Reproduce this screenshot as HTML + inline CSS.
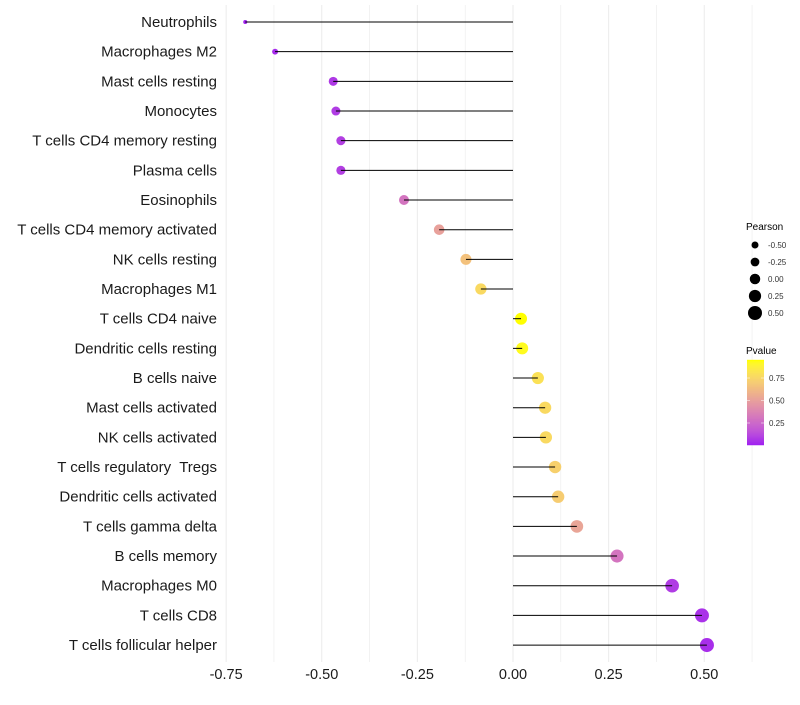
<!DOCTYPE html>
<html><head><meta charset="utf-8"><style>
body{margin:0;background:#fff;font-family:"Liberation Sans",sans-serif}
svg text{font-family:"Liberation Sans",sans-serif;white-space:pre}
</style></head><body>
<svg id="chart" width="800" height="700"></svg>
<script>
const categories=["Neutrophils","Macrophages M2","Mast cells resting","Monocytes","T cells CD4 memory resting","Plasma cells","Eosinophils","T cells CD4 memory activated","NK cells resting","Macrophages M1","T cells CD4 naive","Dendritic cells resting","B cells naive","Mast cells activated","NK cells activated","T cells regulatory  Tregs","Dendritic cells activated","T cells gamma delta","B cells memory","Macrophages M0","T cells CD8","T cells follicular helper"];
const pearson=[-0.70,-0.622,-0.47,-0.463,-0.45,-0.45,-0.285,-0.193,-0.123,-0.084,0.021,0.024,0.065,0.084,0.086,0.11,0.118,0.167,0.272,0.416,0.494,0.507];
const pvalue=[0.01,0.03,0.07,0.08,0.09,0.09,0.3,0.5,0.65,0.76,0.94,0.92,0.8,0.76,0.76,0.72,0.7,0.52,0.3,0.08,0.05,0.04];
const xTicks=[-0.75,-0.5,-0.25,0,0.25,0.5];
const xTickLabels=["-0.75","-0.50","-0.25","0.00","0.25","0.50"];
const sizeLegend=[-0.5,-0.25,0,0.25,0.5];
const sizeLegendLabels=["-0.50","-0.25","0.00","0.25","0.50"];
const pTicks=[0.25,0.5,0.75];
const pTickLabels=["0.25","0.50","0.75"];

const NS="http://www.w3.org/2000/svg";
const svg=document.getElementById('chart');
function el(t,a,p){const e=document.createElementNS(NS,t);for(const k in a)e.setAttribute(k,a[k]);(p||svg).appendChild(e);return e;}
const x=v=>513+(v)*382.5;
const y=i=>22+i*29.67;
function r(v){const kv=[-0.72,-0.62,-0.47,-0.28,0.02,0.5,0.6],kr=[1.8,3,4.5,5,6,7,7.3];
 if(v<=kv[0])return kr[0];for(let i=1;i<kv.length;i++){if(v<=kv[i]){const t=(v-kv[i-1])/(kv[i]-kv[i-1]);return kr[i-1]+t*(kr[i]-kr[i-1]);}}return kr[kr.length-1];}
function rl(v){return 5.25+3.5*v;}
function toLab(h){let c=[1,3,5].map(i=>parseInt(h.substr(i,2),16)/255).map(v=>v>0.04045?Math.pow((v+0.055)/1.055,2.4):v/12.92);
let X=(c[0]*0.4124+c[1]*0.3576+c[2]*0.1805)/0.95047,Y=c[0]*0.2126+c[1]*0.7152+c[2]*0.0722,Z=(c[0]*0.0193+c[1]*0.1192+c[2]*0.9505)/1.08883;
const f=t=>t>0.008856?Math.cbrt(t):7.787*t+16/116;return [116*f(Y)-16,500*(f(X)-f(Y)),200*(f(Y)-f(Z))];}
function fromLab(L,a,b){let fy=(L+16)/116,fx=fy+a/500,fz=fy-b/200;const g=t=>t*t*t>0.008856?t*t*t:(t-16/116)/7.787;
let X=g(fx)*0.95047,Y=g(fy),Z=g(fz)*1.08883;let rr=[X*3.2406-Y*1.5372-Z*0.4986,-X*0.9689+Y*1.8758+Z*0.0415,X*0.0557-Y*0.2040+Z*1.0570];
return 'rgb('+rr.map(v=>Math.round(255*Math.min(1,Math.max(0,v>0.0031308?1.055*Math.pow(v,1/2.4)-0.055:12.92*v)))).join(',')+')';}
const lo=toLab('#a020f0'),hi=toLab('#ffff00');const pmin=0.005,pmax=0.94;
function col(p){let t=Math.min(1,Math.max(0,(p-pmin)/(pmax-pmin)));return fromLab(lo[0]+(hi[0]-lo[0])*t,lo[1]+(hi[1]-lo[1])*t,lo[2]+(hi[2]-lo[2])*t);}
for(let v=-0.75;v<=0.626;v+=0.125){const g=el('line',{x1:x(v),x2:x(v),y1:5,y2:662,stroke:'#ebebeb','stroke-width':Math.abs((v*4)%1)<0.01?1:0.6});
}
categories.forEach((c,i)=>{
 const t=el('text',{x:217,y:y(i)+5,'text-anchor':'end','font-size':15,fill:'#1a1a1a'});t.textContent=c;
 
 const d=el('circle',{cx:x(pearson[i]),cy:y(i),r:r(pearson[i]),fill:col(pvalue[i])});
 
 const s=el('line',{x1:x(0),x2:x(pearson[i]),y1:y(i),y2:y(i),stroke:'#000','stroke-width':1});
 
});
xTicks.forEach((v,i)=>{const t=el('text',{x:x(v),y:679,'text-anchor':'middle','font-size':14.5,fill:'#1a1a1a'});t.textContent=xTickLabels[i];
 });
let t=el('text',{x:746,y:230,'font-size':10,fill:'#000'});t.textContent='Pearson';

sizeLegend.forEach((v,i)=>{const yy=245+i*17;const c=el('circle',{cx:755,cy:yy,r:rl(v),fill:'#000'});
 
 const l=el('text',{x:768,y:yy+3,'font-size':8,fill:'#333'});l.textContent=sizeLegendLabels[i];
 });
t=el('text',{x:746,y:354,'font-size':10,fill:'#000'});t.textContent='Pvalue';

const yb=p=>445.5-p*90;
for(let k=0;k<86;k++){const p=pmin+(pmax-pmin)*k/85;const rc=el('rect',{x:747,y:yb(p)-1.1,width:17,height:1.3,fill:col(p)});
 }
pTicks.forEach((p,i)=>{const l=el('text',{x:769,y:yb(p)+3,'font-size':8,fill:'#333'});l.textContent=pTickLabels[i];
 
 el('line',{x1:747,x2:750,y1:yb(p),y2:yb(p),stroke:'#fff','stroke-width':0.5});el('line',{x1:761,x2:764,y1:yb(p),y2:yb(p),stroke:'#fff','stroke-width':0.5});});
</script>
</body></html>
